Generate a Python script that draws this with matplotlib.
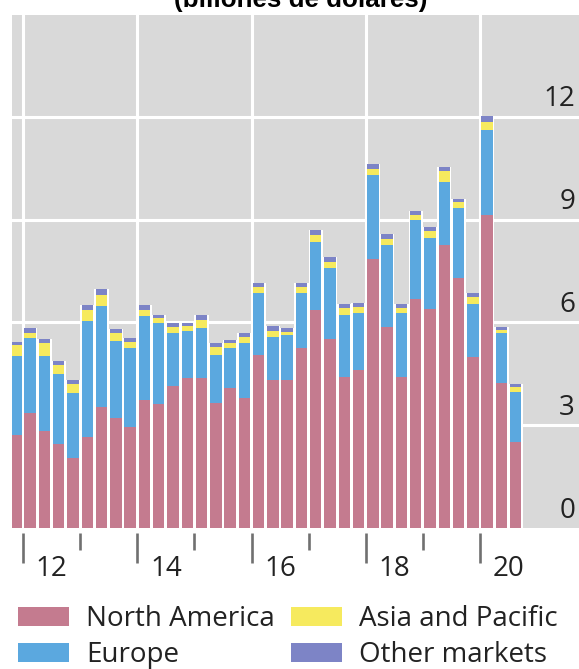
import pandas as pd
import matplotlib
matplotlib.use("Agg")
import matplotlib.pyplot as plt
from matplotlib.transforms import ScaledTranslation

plt.rcParams['font.family'] = ['Open Sans', 'DejaVu Sans']

# quarterly values, 2011Q4 - 2020Q3
quarters = pd.period_range('2011Q4', '2020Q3', freq='Q')
north_america = [2.71, 3.35, 2.84, 2.45, 2.05, 2.66, 3.52, 3.20, 2.94, 3.73, 3.62, 4.14,
                 4.39, 4.39, 3.64, 4.08, 3.78, 5.05, 4.32, 4.32, 5.24, 6.36, 5.51, 4.40,
                 4.61, 7.84, 5.86, 4.42, 6.67, 6.38, 8.26, 7.29, 4.98, 9.13, 4.22, 2.52]
europe = [2.31, 2.18, 2.18, 2.03, 1.88, 3.39, 2.96, 2.26, 2.30, 2.46, 2.35, 1.54,
          1.36, 1.46, 1.41, 1.18, 1.61, 1.80, 1.26, 1.31, 1.61, 1.99, 2.07, 1.82,
          1.65, 2.46, 2.40, 1.84, 2.32, 2.07, 1.84, 2.04, 1.56, 2.48, 1.46, 1.46]
asia_pacific = [0.32, 0.17, 0.37, 0.28, 0.27, 0.31, 0.32, 0.24, 0.20, 0.17, 0.17, 0.19,
                0.15, 0.22, 0.24, 0.13, 0.17, 0.19, 0.18, 0.10, 0.19, 0.20, 0.19, 0.19,
                0.20, 0.18, 0.16, 0.15, 0.14, 0.22, 0.32, 0.17, 0.19, 0.25, 0.10, 0.13]
other_markets = [0.08, 0.13, 0.12, 0.11, 0.12, 0.15, 0.16, 0.10, 0.09, 0.15, 0.09, 0.10,
                 0.09, 0.14, 0.12, 0.10, 0.12, 0.10, 0.13, 0.10, 0.10, 0.15, 0.13, 0.12,
                 0.10, 0.14, 0.15, 0.13, 0.13, 0.10, 0.12, 0.10, 0.14, 0.16, 0.08, 0.09]

series = ['North America', 'Europe', 'Asia and Pacific', 'Other markets']
colors = ['#c47b8f', '#5ba8df', '#f6ea5e', '#7d84c6']

long_ticks = [2012, 2014, 2016, 2018, 2020]
short_ticks = [2013, 2015, 2017, 2019]
year_labels = ['12', '14', '16', '18', '20']
y_ticks = [0, 3, 6, 9, 12]

df = pd.DataFrame({'North America': north_america, 'Europe': europe,
                   'Asia and Pacific': asia_pacific, 'Other markets': other_markets})
df['x'] = [q.year + (q.quarter - 1) * 0.25 + 0.125 for q in quarters]

fig = plt.figure(figsize=(5.79, 6.69), dpi=100)
ax = fig.add_axes([12 / 579, 141 / 669, 567 / 579, 513 / 669])
ax.set_facecolor('#d9d9d9')

# white backing gives the thin white gaps between bars
total = df[series].sum(axis=1)
ax.bar(df['x'], total, width=0.25, color='white', zorder=2)

bottom = pd.Series(0.0, index=df.index)
bars = []
for name, c in zip(series, colors):
    b = ax.bar(df['x'], df[name], width=0.2, bottom=bottom, color=c, label=name, zorder=3)
    bars.append(b)
    bottom = bottom + df[name]

ax.set_xlim(2011.8074, 2021.733)
ax.set_ylim(0, 14.97)

for s in ax.spines.values():
    s.set_visible(False)
ax.spines['bottom'].set_position(('outward', 3.6))

ax.set_xticks(long_ticks, labels=[''] * len(long_ticks))
ax.set_xticks([y + 0.5 for y in long_ticks], labels=year_labels, minor=True)
ax.tick_params(axis='x', which='major', length=21.6, width=1.9, color='#707070')
ax.tick_params(axis='x', which='minor', length=0, pad=15.5, labelsize=20, labelcolor='#222222')

sec = ax.secondary_xaxis(-5 / 513)
sec.set_xticks(short_ticks, labels=[''] * len(short_ticks))
sec.tick_params(axis='x', length=12.5, width=1.9, color='#707070')
sec.spines['bottom'].set_visible(False)

ax.set_yticks(y_ticks[1:])
ax.tick_params(axis='y', left=False, labelleft=False)
ax.grid(True, which='major', color='white', linewidth=2.2)
ax.set_axisbelow(True)

# y labels sit above their gridlines, inside the plot at the right
off = ScaledTranslation(0, 17.5 / 100, fig.dpi_scale_trans)
for v in y_ticks:
    ax.text(0.993, v, str(v), transform=ax.get_yaxis_transform() + off,
            ha='right', va='center', fontsize=20, color='#222222', zorder=5)

fig.text(301 / 579, 1 - 7.3 / 669, '(billones de dólares)', ha='center', va='baseline',
         fontsize=18.7, fontweight='bold', family='Liberation Sans')

fig.legend(handles=bars, labels=series, ncol=2, frameon=False, fontsize=20,
           labelcolor='#222222',
           loc='upper left', bbox_to_anchor=(18 / 579, 1 - 605 / 669),
           borderaxespad=0, borderpad=0, handlelength=1.85, handleheight=0.68,
           handletextpad=0.6, columnspacing=0.58, labelspacing=0.3)

fig.savefig('out.png', dpi=100)
